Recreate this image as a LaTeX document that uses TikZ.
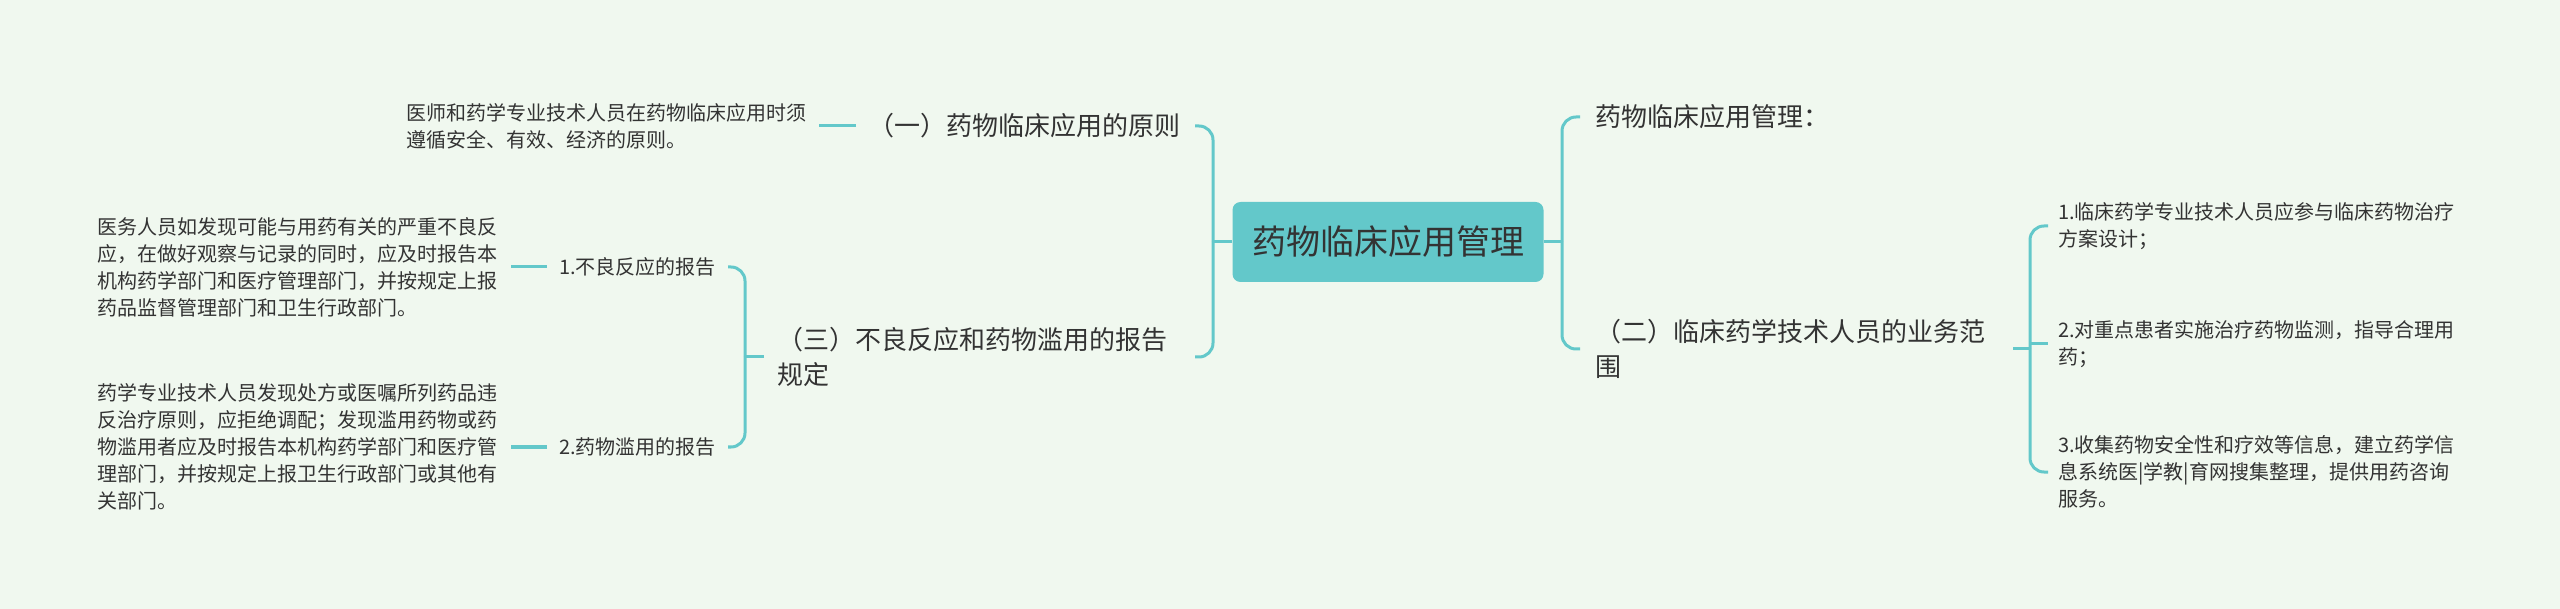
\documentclass[tikz,border=0pt]{standalone}
\usepackage{fontspec}
\setmainfont{Noto Sans CJK SC}
\usepackage{xcolor}
\usetikzlibrary{calc}
\definecolor{bgmint}{RGB}{240,248,239}
\definecolor{mmteal}{RGB}{99,200,202}
\definecolor{mmtext}{RGB}{51,51,51}

\begin{document}
\begin{tikzpicture}[x=1pt,y=-1pt,
  link/.style={draw=mmteal,line width=3pt,rounded corners=14pt},
  topic/.style={shape=rectangle,fill=mmteal,rounded corners=8pt,text=mmtext,font=\fontsize{34}{40}\selectfont,minimum width=311pt,minimum height=80pt,inner sep=0pt},
  sect/.style={inner sep=0pt,anchor=west,align=left,text=mmtext,font=\fontsize{26}{35}\selectfont},
  note/.style={inner sep=0pt,anchor=west,align=left,text=mmtext,font=\fontsize{20}{27}\selectfont}]
\path[use as bounding box,fill=bgmint] (0,0) rectangle (2560,609);

\node[topic](root) at (1388,242) {药物临床应用管理};

\node[sect](yi) at (868,126) {（一）药物临床应用的原则};
\node[note](yiN) at (406,126) {医师和药学专业技术人员在药物临床应用时须\\遵循安全、有效、经济的原则。};
\node[sect](san) at (777,357) {（三）不良反应和药物滥用的报告\\规定};
\node[note](sanA) at (559,267) {1.不良反应的报告};
\node[note](sanB) at (559,447) {2.药物滥用的报告};
\node[note](sanAN) at (97,267) {医务人员如发现可能与用药有关的严重不良反\\应，在做好观察与记录的同时，应及时报告本\\机构药学部门和医疗管理部门，并按规定上报\\药品监督管理部门和卫生行政部门。};
\node[note](sanBN) at (97,447) {药学专业技术人员发现处方或医嘱所列药品违\\反治疗原则，应拒绝调配；发现滥用药物或药\\物滥用者应及时报告本机构药学部门和医疗管\\理部门，并按规定上报卫生行政部门或其他有\\关部门。};

\node[sect](gl) at (1595,117) {药物临床应用管理：};
\node[sect](er) at (1595,349) {（二）临床药学技术人员的业务范\\围};
\node[note](erA) at (2058,226) {1.临床药学专业技术人员应参与临床药物治疗\\方案设计；};
\node[note](erB) at (2058,344) {2.对重点患者实施治疗药物监测，指导合理用\\药；};
\node[note](erC) at (2058,472) {3.收集药物安全性和疗效等信息，建立药学信\\息系统医|学教|育网搜集整理，提供用药咨询\\服务。};

% left side
\coordinate (lb) at (1213,242);
\coordinate (lbe) at (1195,242);
\draw[link] (root.west) -- (lb);
\draw[link] (lb) |- (yi.east -| lbe);
\draw[link] (lb) |- (san.east -| lbe);
\draw[link] ([xshift=-12pt]yi.west) -- ([xshift=13pt]yiN.east);

\coordinate (sb) at (745,357);
\coordinate (sbe) at (728,357);
\draw[link] ([xshift=-13pt]san.west) -- (sb);
\draw[link] (sb) |- (sanA.east -| sbe);
\draw[link] (sb) |- (sanB.east -| sbe);
\draw[link] ([xshift=-12pt]sanA.west) -- ([xshift=14pt]sanAN.east);
\draw[link] ([xshift=-12pt]sanB.west) -- ([xshift=14pt]sanBN.east);

% right side
\coordinate (rb) at (1562,242);
\coordinate (rbe) at (1580,242);
\draw[link] (root.east) -- (rb);
\draw[link] (rb) |- (gl.west -| rbe);
\draw[link] (rb) |- (er.west -| rbe);

\coordinate (eb) at (2030,349);
\coordinate (ebe) at (2048,349);
\draw[link] ([xshift=28pt]er.east) -- (eb);
\draw[link] (eb) |- (erA.west -| ebe);
\draw[link] (eb) |- (erC.west -| ebe);
\draw[link] (eb |- erB.west) -- (erB.west -| ebe);
\end{tikzpicture}
\end{document}
